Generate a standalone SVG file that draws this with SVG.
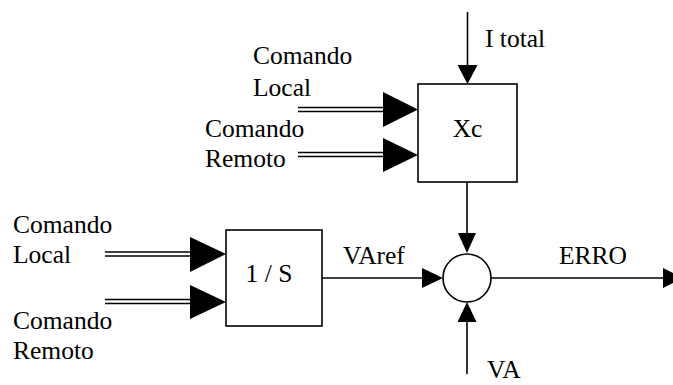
<svg xmlns="http://www.w3.org/2000/svg" width="673" height="385" viewBox="0 0 673 385">
<style>
text{font-family:"Liberation Serif","Times New Roman",serif;font-size:25.5px;fill:#000}
.box{fill:#fff;stroke:#000;stroke-width:1.6}
.ln{fill:none;stroke:#000;stroke-width:1.6}
.dl{fill:none;stroke:#000;stroke-width:1.5}
.ah{fill:#000}
</style>
<rect width="673" height="385" fill="#fff"/>
<g id="connectors">
<line class="ln" x1="467.5" y1="12" x2="467.5" y2="66"/>
<polygon class="ah" points="457.5,65 477.5,65 467.5,84"/>
<line class="dl" x1="298" y1="107.5" x2="385" y2="107.5"/>
<line class="dl" x1="298" y1="111.5" x2="385" y2="111.5"/>
<polygon class="ah" points="383,92 383,127 418,109.5"/>
<line class="dl" x1="298" y1="152.5" x2="385" y2="152.5"/>
<line class="dl" x1="298" y1="156.5" x2="385" y2="156.5"/>
<polygon class="ah" points="383,138 383,172 418,155"/>
<line class="dl" x1="105" y1="252" x2="192" y2="252"/>
<line class="dl" x1="105" y1="256" x2="192" y2="256"/>
<polygon class="ah" points="190,237 190,272 226,254"/>
<line class="dl" x1="105" y1="299.5" x2="192" y2="299.5"/>
<line class="dl" x1="105" y1="303.5" x2="192" y2="303.5"/>
<polygon class="ah" points="190,285 190,319 226,302"/>
<line class="ln" x1="467" y1="182" x2="467" y2="235"/>
<polygon class="ah" points="458,233 476,233 467,253"/>
<line class="ln" x1="322" y1="278" x2="424" y2="278"/>
<polygon class="ah" points="422,268 422,288 443,278"/>
<line class="ln" x1="491" y1="278" x2="665" y2="278"/>
<polygon class="ah" points="663,268 663,288 683,278"/>
<line class="ln" x1="467" y1="374" x2="467" y2="320"/>
<polygon class="ah" points="457.5,322 476.5,322 467,302"/>
</g>
<g id="xc">
<rect class="box" x="418" y="84" width="99" height="98"/>
<text x="467.5" y="137" text-anchor="middle">Xc</text>
</g>
<g id="integrator">
<rect class="box" x="226" y="230" width="96" height="96"/>
<text x="269" y="282" text-anchor="middle">1 / S</text>
</g>
<g id="sum">
<circle cx="467" cy="278" r="24" fill="#fff" stroke="#000" stroke-width="1.6"/>
</g>
<g id="labels">
<text x="485" y="47">I total</text>
<text x="253" y="64">Comando</text>
<text x="253" y="96">Local</text>
<text x="205" y="137">Comando</text>
<text x="205" y="167">Remoto</text>
<text x="13" y="233">Comando</text>
<text x="13" y="263">Local</text>
<text x="13" y="329">Comando</text>
<text x="13" y="359">Remoto</text>
<text x="343" y="264">VAref</text>
<text x="559" y="264">ERRO</text>
<text x="487" y="378">VA</text>
</g>
</svg>
